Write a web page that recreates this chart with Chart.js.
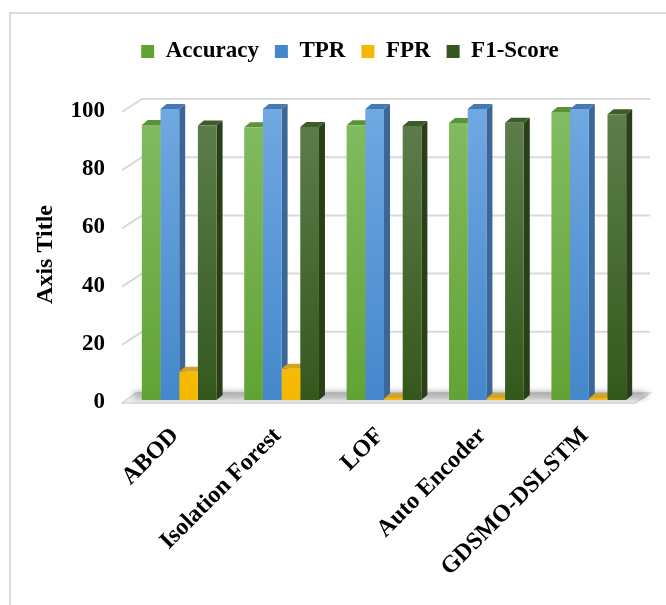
<!DOCTYPE html>
<html>
<head>
<meta charset="utf-8">
<script src="https://cdn.jsdelivr.net/npm/chart.js@4.4.1/dist/chart.umd.min.js"></script>
<style>
    body { margin: 0; background: #fff; }
    #wrap { position: relative; width: 666px; height: 605px; }
    #frame {
        position: absolute; left: 9px; top: 12px; right: 0; bottom: 0;
        border-left: 2px solid #d9d9d9; border-top: 2px solid #d9d9d9;
    }
    canvas { position: absolute; left: 0; top: 0; }
</style>
</head>
<body>
<div id="wrap">
    <div id="frame"></div>
    <canvas id="chart" width="666" height="605"></canvas>
</div>
<script>
// categories and series
const methods = ["ABOD", "Isolation Forest", "LOF", "Auto Encoder", "GDSMO-DSLSTM"];
const accuracy = [94.5, 93.7, 94.4, 95.2, 99.0];
const tpr = [100, 100, 100, 100, 100];
const fpr = [9.7, 10.7, 0.5, 0.5, 0.5];
const f1Score = [94.3, 93.8, 94.2, 95.3, 98.2];
const yTicks = [0, 20, 40, 60, 80, 100];

const FONT = "'Liberation Serif', 'Times New Roman', serif";

// colours: gradient top, gradient bottom, side face, top face
const palette = {
    acc: ["#83bc63", "#62a235", "#4c7f2b", "#5a9238"],
    tpr: ["#70a8e2", "#4587cc", "#3a6796", "#4679b0"],
    fpr: ["#ffcf3d", "#f5b800", "#c48f00", "#d6a321"],
    f1: ["#5e7f4c", "#34581c", "#283f18", "#3c5c28"],
};

// vertical gradient over the plot area
const grad = (cols) => (ctx) => {
    const area = ctx.chart.chartArea;
    if (!area) return cols[1];
    const g = ctx.chart.ctx.createLinearGradient(0, area.top, 0, area.bottom);
    g.addColorStop(0, cols[0]);
    g.addColorStop(1, cols[1]);
    return g;
};

// back wall grid, floor and the side/top faces of the bars
const fake3d = {
    id: "fake3d",
    beforeDatasetsDraw(chart) {
        const { ctx, chartArea } = chart;
        const yScale = chart.scales.y;
        const L = chartArea.left;
        const R = chartArea.right;
        const B = yScale.getPixelForValue(0);
        const dx = 6, dy = 5;
        ctx.save();

        // grid lines on the back wall
        ctx.strokeStyle = "#d9d9d9";
        ctx.lineWidth = 2;
        yTicks.slice(1).forEach((v) => {
            const y = yScale.getPixelForValue(v);
            ctx.beginPath();
            ctx.moveTo(L - 6, y + 3);
            ctx.lineTo(L + 14, y - 10);
            ctx.lineTo(R + 10, y - 10);
            ctx.stroke();
        });

        // floor
        ctx.beginPath();
        ctx.moveTo(L - 6, B + 3);
        ctx.lineTo(R - 5, B + 3);
        ctx.lineTo(R + 10, B - 7);
        ctx.lineTo(L + 8, B - 7);
        ctx.closePath();
        ctx.fillStyle = "#f0f0f0";
        ctx.fill();
        ctx.strokeStyle = "#d6d6d6";
        ctx.lineWidth = 1.5;
        ctx.stroke();

        // soft shadow of each bar group on the floor
        const first = chart.getDatasetMeta(0).data;
        const last = chart.getDatasetMeta(chart.data.datasets.length - 1).data;
        ctx.filter = "blur(3px)";
        ctx.fillStyle = "rgba(0,0,0,0.35)";
        first.forEach((bar, k) => {
            const a = bar.getProps(["x", "width"], true);
            const b = last[k].getProps(["x", "width"], true);
            const x0 = a.x - a.width / 2 - 8;
            const x1 = b.x + b.width / 2 + dx + 14;
            ctx.fillRect(x0, B - 8, x1 - x0, 6);
        });
        ctx.filter = "none";

        // bar depth faces, drawn before the fronts so neighbours hide them
        chart.data.datasets.forEach((ds, i) => {
            const meta = chart.getDatasetMeta(i);
            meta.data.forEach((bar) => {
                const { x, y, base, width } = bar.getProps(["x", "y", "base", "width"], true);
                const l = x - width / 2, r = x + width / 2;
                ctx.fillStyle = ds.sideColor;
                ctx.beginPath();
                ctx.moveTo(r, y);
                ctx.lineTo(r + dx, y - dy);
                ctx.lineTo(r + dx, base - dy);
                ctx.lineTo(r, base);
                ctx.closePath();
                ctx.fill();
                ctx.fillStyle = ds.topColor;
                ctx.beginPath();
                ctx.moveTo(l, y);
                ctx.lineTo(l + dx, y - dy);
                ctx.lineTo(r + dx, y - dy);
                ctx.lineTo(r, y);
                ctx.closePath();
                ctx.fill();
            });
        });
        ctx.restore();
    },
    afterLayout(chart) {
        // legend sits a bit right of centre and lower
        chart.legend.left = 34;
        chart.legend.right = 666;
        chart.legend.top = 24;
    },
};

const makeSet = (label, data, cols) => ({
    label: label,
    data: data,
    backgroundColor: grad(cols),
    borderWidth: 0,
    sideColor: cols[2],
    topColor: cols[3],
});

new Chart(document.getElementById("chart"), {
    type: "bar",
    data: {
        labels: methods,
        datasets: [
            makeSet("Accuracy", accuracy, palette.acc),
            makeSet("TPR", tpr, palette.tpr),
            makeSet("FPR", fpr, palette.fpr),
            makeSet("F1-Score", f1Score, palette.f1),
        ],
    },
    options: {
        responsive: false,
        animation: false,
        layout: { padding: { top: 60, right: 26, left: 0, bottom: 0 } },
        datasets: {
            bar: { categoryPercentage: 0.73, barPercentage: 1.0 },
        },
        plugins: {
            legend: {
                position: "top",
                labels: {
                    color: "#000",
                    boxWidth: 13,
                    boxHeight: 13,
                    padding: 16,
                    font: { family: FONT, size: 23, weight: "bold" },
                    generateLabels: (chart) =>
                        chart.data.datasets.map((ds, i) => ({
                            text: ds.label,
                            fillStyle: [palette.acc, palette.tpr, palette.fpr, palette.f1][i][1],
                            strokeStyle: "transparent",
                            lineWidth: 0,
                            datasetIndex: i,
                            fontColor: "#000",
                        })),
                },
            },
            tooltip: { enabled: false },
        },
        scales: {
            x: {
                grid: { display: false, drawTicks: false },
                border: { display: false },
                ticks: {
                    color: "#000",
                    font: { family: FONT, size: 24, weight: "bold" },
                    maxRotation: 45,
                    minRotation: 45,
                    padding: 22,
                    labelOffset: -4,
                },
                afterFit: (scale) => { scale.height = 205; },
            },
            y: {
                min: 0,
                max: 100,
                grid: { display: false, drawTicks: false },
                border: { display: false },
                ticks: {
                    stepSize: 20,
                    color: "#000",
                    padding: 23,
                    labelOffset: 2,
                    font: { family: FONT, size: 23, weight: "bold" },
                },
                title: {
                    display: true,
                    text: "Axis Title",
                    color: "#000",
                    padding: { top: 31, bottom: 0 },
                    font: { family: FONT, size: 24, weight: "bold" },
                },
                afterFit: (scale) => { scale.width = 128; },
            },
        },
    },
    plugins: [fake3d],
});
</script>
</body>
</html>
